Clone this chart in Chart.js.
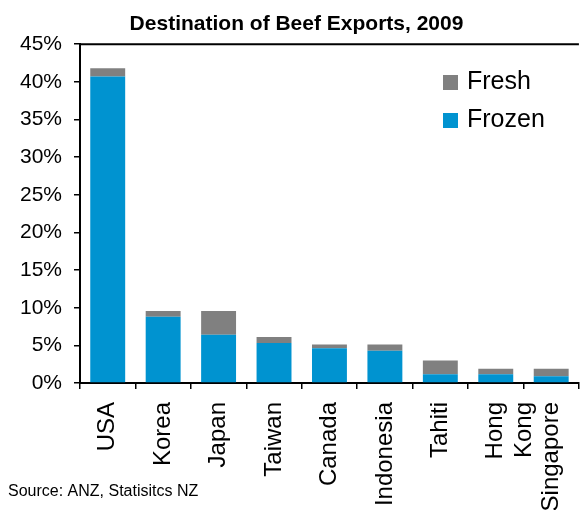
<!DOCTYPE html>
<html lang="en">
<head>
    <meta charset="UTF-8">
    <title>Destination of Beef Exports, 2009</title>
    <script src="https://cdn.jsdelivr.net/npm/chart.js"></script>
    <style>
        body { margin: 0; overflow: hidden; background: #fff; }
        #wrap { width: 593px; height: 510px; position: relative; }
    </style>
</head>
<body>
    <div id="wrap">
        <canvas id="beef-chart"></canvas>
    </div>

    <script>
    const countries = ['USA', 'Korea', 'Japan', 'Taiwan', 'Canada', 'Indonesia', 'Tahiti', ['Hong', 'Kong'], 'Singapore'];
    const frozen = [40.7, 8.8, 6.4, 5.3, 4.6, 4.3, 1.15, 1.15, 0.88];
    const fresh = [1.1, 0.75, 3.15, 0.8, 0.5, 0.8, 1.85, 0.75, 1.02];
    const yTicks = [0, 5, 10, 15, 20, 25, 30, 35, 40, 45];

    const font = "'Liberation Sans', Arial, sans-serif";

    // top frame line, legend and source note
    const extras = {
        id: 'extras',
        afterDraw(chart) {
            const ctx = chart.ctx;
            const area = chart.chartArea;
            ctx.save();
            ctx.strokeStyle = '#000';
            ctx.lineWidth = 2;
            ctx.beginPath();
            ctx.moveTo(area.left, area.top);
            ctx.lineTo(area.right, area.top);
            ctx.stroke();

            const items = [chart.data.datasets[1], chart.data.datasets[0]];
            ctx.font = '25px ' + font;
            ctx.textBaseline = 'alphabetic';
            items.forEach((ds, i) => {
                const y = 89 + i * 38;
                ctx.fillStyle = ds.backgroundColor;
                ctx.fillRect(443, y - 14, 15, 15);
                ctx.fillStyle = '#000';
                ctx.fillText(ds.label, 467, y);
            });

            ctx.font = '16px ' + font;
            ctx.fillText('Source: ANZ, Statisitcs NZ', 8, 496);
            ctx.restore();
        }
    };

    new Chart(document.getElementById('beef-chart'), {
        type: 'bar',
        data: {
            labels: countries,
            datasets: [{
                label: 'Frozen',
                data: frozen,
                backgroundColor: '#0093D0',
                categoryPercentage: 1,
                barPercentage: 0.63
            }, {
                label: 'Fresh',
                data: fresh,
                backgroundColor: '#808080',
                categoryPercentage: 1,
                barPercentage: 0.63
            }]
        },
        options: {
            responsive: true,
            maintainAspectRatio: false,
            animation: false,
            layout: { padding: 0 },
            plugins: {
                legend: { display: false },
                tooltip: { enabled: false },
                title: {
                    display: true,
                    text: 'Destination of Beef Exports, 2009',
                    color: '#000',
                    font: { family: font, size: 21, weight: 'bold' },
                    padding: { top: 12, bottom: 7 }
                }
            },
            scales: {
                x: {
                    stacked: true,
                    afterFit: (scale) => { scale.height = 127; },
                    border: { display: true, color: '#000', width: 2 },
                    grid: {
                        offset: true,
                        drawOnChartArea: false,
                        color: '#000',
                        tickLength: 6,
                        lineWidth: 1.5
                    },
                    ticks: {
                        color: '#000',
                        font: { family: font, size: 24 },
                        minRotation: 90,
                        maxRotation: 90,
                        autoSkip: false,
                        padding: 13
                    }
                },
                y: {
                    stacked: true,
                    min: 0,
                    max: 45,
                    afterFit: (scale) => { scale.width = 80; },
                    afterBuildTicks: (scale) => { scale.ticks = yTicks.map(v => ({ value: v })); },
                    border: { display: true, color: '#000', width: 2 },
                    grid: {
                        drawOnChartArea: false,
                        color: '#000',
                        tickLength: 6,
                        lineWidth: 1.5
                    },
                    ticks: {
                        color: '#000',
                        font: { family: font, size: 21 },
                        padding: 12,
                        callback: (v) => v + '%'
                    }
                }
            }
        },
        plugins: [extras]
    });
    </script>
</body>
</html>
